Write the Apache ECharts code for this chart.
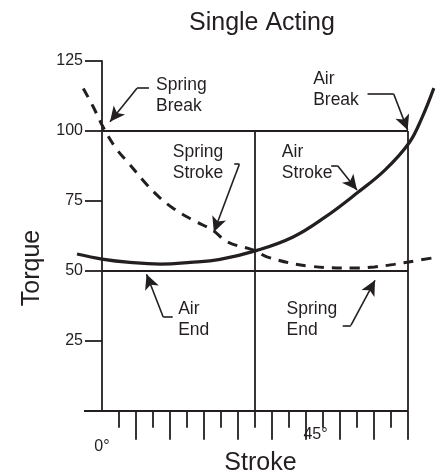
<!DOCTYPE html>
<html>
<head>
<meta charset="utf-8">
<script src="https://cdn.jsdelivr.net/npm/echarts@6/dist/echarts.min.js"></script>
<style>
  html, body { margin: 0; padding: 0; background: #fff; }
  #chart { width: 442px; height: 474px; }
</style>
</head>
<body>
<div id="chart"></div>
<script>
// stroke in degrees, torque in %
var airStroke = [[-7.35,56.0],[0,54.2],[8.2,53.0],[17.1,52.4],[25.9,53.0],[34.7,54.1],[45.6,57.3],[56.2,62.1],[65.6,69.2],[75,77.8],[83.2,86.0],[90.3,95.7],[94.1,104.7],[97.6,115.3]];
var springStroke = [[-5.5,115.2],[-2.7,108.9],[0.4,101.2],[4.1,93.8],[7.9,88.4],[12.1,82.3],[16.5,76.7],[21,72.3],[26.5,68.3],[32.4,64.6],[37,60.3],[44.8,57.3],[48.7,54.9],[61.5,51.6],[74.2,51.0],[80.1,51.4],[85.9,52.3],[91.8,53.5],[98.2,54.8]];

var yTicks = [0, 25, 50, 75, 100, 125];
var yLabels = [25, 50, 75, 100, 125];
var longTicks = [10, 20, 30, 40, 50, 60, 70, 80, 90];
var shortTicks = [5, 15, 25, 35, 45, 55, 65, 75, 85];

// box lines: [from, to]
var boxLines = [
  [[0,100],[90,100]],
  [[0,50],[90,50]],
  [[45,100],[45,0]],
  [[90,100],[90,0]],
  [[-5.3,0],[90,0]]
];

var noteText = ['Spring\nBreak','Spring\nStroke','Air\nStroke','Air\nBreak','Air\nEnd','Spring\nEnd'];
var noteAt = [[15.9,112.7],[20.8,88.7],[52.9,88.7],[62.1,114.9],[22.4,32.7],[54.3,32.7]];
// each arrow: hook start, hook end, arrow tip
var arrows = [
  [[13.8,115.3],[10.3,115.3],[2.35,103.3]],
  [[38.9,88.1],[40.4,88.1],[32.9,63.9]],
  [[67.4,87.6],[69.3,87.6],[75,78.9]],
  [[78.1,113.2],[85.8,113.2],[89.9,100.3]],
  [[20.8,33.5],[18.0,33.5],[13.1,48.8]],
  [[70.8,30.5],[73.2,30.5],[80.3,46.6]]
];

var ink = '#231f20';
var font = '"Liberation Sans", Arial, sans-serif';

var chart = echarts.init(document.getElementById('chart'));

var frameData = boxLines.map(function(l){
  return [{coord: l[0]}, {coord: l[1]}];
});
var arrowData = [];
arrows.forEach(function(a){
  arrowData.push([{coord: a[0], symbol: 'none'}, {coord: a[1], symbol: 'none'}]);
  arrowData.push([{coord: a[1], symbol: 'none'}, {coord: a[2], symbol: 'arrow', symbolSize: [11, 15]}]);
});

var notes = noteText.map(function(t, i){
  return {value: noteAt[i], name: t};
});

var option = {
  animation: false,
  backgroundColor: '#fff',
  title: {
    text: 'Single Acting',
    left: 189, top: 11, padding: 0,
    textStyle: {fontFamily: font, fontSize: 25, fontWeight: 'normal', color: ink}
  },
  // x from -20 to 100 so the curves can run past the box
  grid: {left: 34, right: 0, top: 61, bottom: 63.3, outerBoundsMode: 'none'},
  xAxis: [{
    type: 'value', min: -20, max: 100, position: 'bottom',
    axisLine: {show: false, onZero: false},
    splitLine: {show: false},
    axisTick: {show: true, length: 29, customValues: longTicks, lineStyle: {color: ink, width: 1.8}},
    axisLabel: {show: true, customValues: [0], formatter: '{value}°', margin: 28,
      fontFamily: font, fontSize: 16, color: ink}
  }, {
    type: 'value', min: -20, max: 100, position: 'bottom',
    axisLine: {show: false, onZero: false},
    splitLine: {show: false},
    axisTick: {show: true, length: 17, customValues: shortTicks, lineStyle: {color: ink, width: 1.8}},
    axisLabel: {show: false}
  }],
  yAxis: {
    type: 'value', min: 0, max: 125, interval: 25, position: 'left', offset: -68,
    axisLine: {show: true, onZero: false, lineStyle: {color: ink, width: 1.8}},
    axisTick: {show: true, length: 17, customValues: yTicks, lineStyle: {color: ink, width: 1.8}},
    axisLabel: {customValues: yLabels, margin: 19, fontFamily: font, fontSize: 16, color: ink},
    splitLine: {show: false}
  },
  series: [{
    name: 'frame', type: 'line', data: [], silent: true,
    markLine: {
      silent: true, animation: false, symbol: ['none', 'none'],
      label: {show: false},
      lineStyle: {color: ink, width: 1.8, type: 'solid'},
      emphasis: {disabled: true},
      data: frameData
    }
  }, {
    name: 'Air', type: 'line', data: airStroke, smooth: 0.4, symbol: 'none',
    lineStyle: {color: ink, width: 3.2}
  }, {
    name: 'Spring', type: 'line', data: springStroke, smooth: 0.4, symbol: 'none',
    lineStyle: {color: ink, width: 3, type: [10, 8], cap: 'butt'}
  }, {
    name: 'arrows', type: 'line', data: [], silent: true,
    markLine: {
      silent: true, animation: false, symbol: ['none', 'none'],
      label: {show: false},
      lineStyle: {color: ink, width: 1.6, type: 'solid'},
      itemStyle: {color: ink},
      emphasis: {disabled: true},
      data: arrowData
    }
  }, {
    name: 'notes', type: 'scatter', data: notes, symbolSize: 0, clip: false, silent: true,
    itemStyle: {opacity: 1},
    label: {
      show: true, position: [0, 0], align: 'left', verticalAlign: 'middle',
      formatter: '{b}', fontFamily: font, fontSize: 17.5, lineHeight: 21, color: ink
    }
  }, {
    name: 'axisText', type: 'scatter', symbolSize: 0, clip: false, silent: true,
    itemStyle: {opacity: 1},
    data: [
      {value: [46.6, -18.8], name: 'Stroke', label: {fontSize: 25}},
      {value: [-20.6, 51.0], name: 'Torque', label: {fontSize: 25, rotate: 90}},
      {value: [62.8, -8.7], name: '45°', label: {fontSize: 16}}
    ],
    label: {
      show: true, position: [0, 0], align: 'center', verticalAlign: 'middle',
      formatter: '{b}', fontFamily: font, color: ink
    }
  }]
};

chart.setOption(option);
</script>
</body>
</html>
